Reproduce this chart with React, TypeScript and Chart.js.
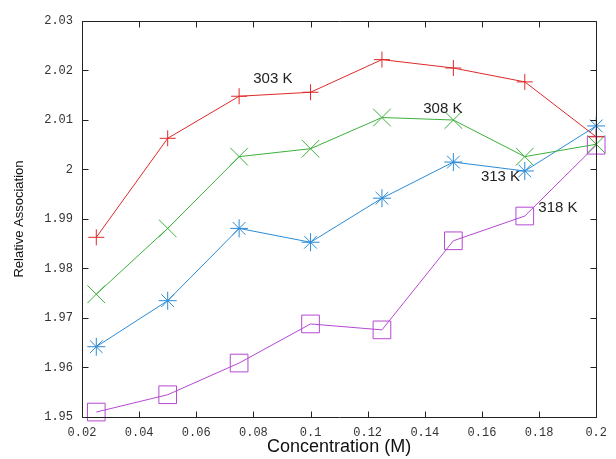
import React, { useEffect, useRef } from "react";
import { Chart, registerables } from "chart.js";

Chart.register(...registerables);

const concentrations = [0.025, 0.05, 0.075, 0.1, 0.125, 0.15, 0.175, 0.2];
const k303 = [1.9863, 2.0063, 2.0148, 2.0156, 2.0222, 2.0205, 2.0177, 2.0066];
const k308 = [1.9748, 1.9881, 2.0026, 2.0042, 2.0105, 2.01, 2.0026, 2.0051];
const k313 = [1.9642, 1.9735, 1.9881, 1.9853, 1.9942, 2.0015, 1.9997, 2.0088];
const k318 = [1.951, 1.9545, 1.9609, 1.9688, 1.9676, 1.9856, 1.9906, 2.0049];

const xTicks = [0.02, 0.04, 0.06, 0.08, 0.1, 0.12, 0.14, 0.16, 0.18, 0.2];
const xTickLabels = ["0.02", "0.04", "0.06", "0.08", "0.1", "0.12", "0.14", "0.16", "0.18", "0.2"];
const yTicks = [1.95, 1.96, 1.97, 1.98, 1.99, 2.0, 2.01, 2.02, 2.03];
const yTickLabels = ["1.95", "1.96", "1.97", "1.98", "1.99", "2", "2.01", "2.02", "2.03"];

const seriesNames = ["303 K", "308 K", "313 K", "318 K"];
const nameX = [0.0868, 0.1463, 0.1665, 0.1866];
const nameY = [2.0184, 2.0122, 1.9985, 1.9923];

const xTitle = "Concentration (M)";
const yTitle = "Relative Association";

const colors = ["#dd2a2a", "#3cb03c", "#2a8ad6", "#b548d2"];
const styles = ["cross", "crossRot", "star", "rect"];
const radii = [8, 12.5, 9, 12.5];

const framePlugin = {
  id: "frameTicks",
  afterDatasetsDraw(chart: any) {
    const { ctx, chartArea: a, scales } = chart;
    const xs = scales.x;
    const ys = scales.y;
    ctx.save();
    ctx.strokeStyle = "#222";
    ctx.lineWidth = 1;
    const L = Math.round(a.left) + 0.5;
    const R = Math.round(a.right) + 0.5;
    const T = Math.round(a.top) + 0.5;
    const B = Math.round(a.bottom) + 0.5;
    ctx.beginPath();
    ctx.rect(L, T, R - L, B - T);
    const len = 6;
    xTicks.forEach((v) => {
      const px = Math.round(xs.getPixelForValue(v)) + 0.5;
      ctx.moveTo(px, B);
      ctx.lineTo(px, B - len);
      ctx.moveTo(px, T);
      ctx.lineTo(px, T + len);
    });
    yTicks.forEach((v) => {
      const py = Math.round(ys.getPixelForValue(v)) + 0.5;
      ctx.moveTo(L, py);
      ctx.lineTo(L + len, py);
      ctx.moveTo(R, py);
      ctx.lineTo(R - len, py);
    });
    ctx.stroke();

    ctx.fillStyle = "#222";
    ctx.font = "15px 'Liberation Sans', Arial, sans-serif";
    ctx.textAlign = "center";
    ctx.textBaseline = "middle";
    seriesNames.forEach((n, i) => {
      ctx.fillText(n, xs.getPixelForValue(nameX[i]), ys.getPixelForValue(nameY[i]));
    });
    ctx.restore();
  },
};

export default function App() {
  const ref = useRef<HTMLCanvasElement | null>(null);
  useEffect(() => {
    if (!ref.current) return;
    const series = [k303, k308, k313, k318];
    const chart = new Chart(ref.current, {
      type: "line",
      data: {
        datasets: series.map((s, i) => ({
          label: seriesNames[i],
          data: s.map((y, j) => ({ x: concentrations[j], y })),
          borderColor: colors[i],
          backgroundColor: "rgba(0,0,0,0)",
          borderWidth: 1,
          pointStyle: styles[i] as any,
          pointRadius: radii[i],
          pointBorderWidth: 1,
          pointBorderColor: colors[i],
          pointBackgroundColor: "rgba(0,0,0,0)",
          tension: 0,
          fill: false,
          clip: false as any,
        })),
      },
      options: {
        animation: false,
        responsive: false,
        events: [],
        layout: { padding: { top: 21, right: 14, left: 0, bottom: 0 } },
        plugins: { legend: { display: false }, tooltip: { enabled: false } },
        scales: {
          x: {
            type: "linear",
            min: 0.02,
            max: 0.2,
            grid: { display: false, drawTicks: false },
            border: { display: false },
            afterBuildTicks: (s: any) => {
              s.ticks = xTicks.map((v) => ({ value: v }));
            },
            afterFit: (s: any) => {
              s.height = 42;
            },
            ticks: {
              padding: 9,
              maxRotation: 0,
              autoSkip: false,
              color: "#333",
              font: { family: "'Liberation Mono', monospace", size: 12 },
              callback: (_v: any, i: number) => xTickLabels[i],
            },
            title: {
              display: true,
              text: xTitle,
              color: "#111",
              font: { family: "'Liberation Sans', Arial, sans-serif", size: 18 },
              padding: { top: 0, bottom: 1 },
            },
          },
          y: {
            type: "linear",
            min: 1.95,
            max: 2.03,
            grid: { display: false, drawTicks: false },
            border: { display: false },
            afterBuildTicks: (s: any) => {
              s.ticks = yTicks.map((v) => ({ value: v }));
            },
            afterFit: (s: any) => {
              s.width = 82;
            },
            ticks: {
              padding: 9,
              autoSkip: false,
              color: "#333",
              font: { family: "'Liberation Mono', monospace", size: 12 },
              callback: (_v: any, i: number) => yTickLabels[i],
            },
            title: {
              display: true,
              text: yTitle,
              color: "#111",
              font: { family: "'Liberation Sans', Arial, sans-serif", size: 13 },
              padding: { top: 12, bottom: 0 },
            },
          },
        },
      },
      plugins: [framePlugin],
    });
    return () => chart.destroy();
  }, []);
  return (
    <div style={{ position: "absolute", left: 0, top: 0, width: 616, height: 459, background: "#fff" }}>
      <canvas ref={ref} width={616} height={459} />
    </div>
  );
}
